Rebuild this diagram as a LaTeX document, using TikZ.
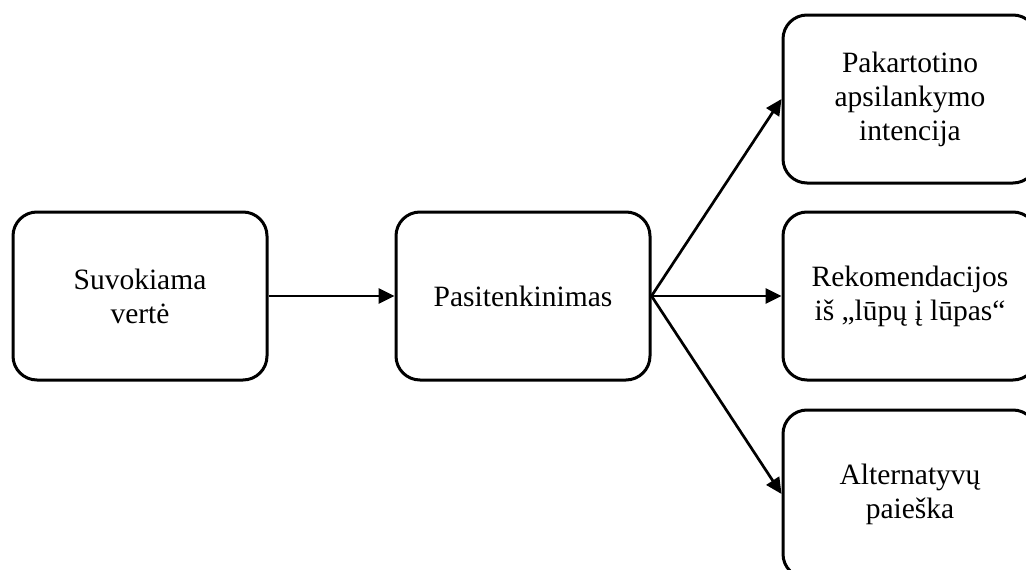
\documentclass[tikz,border=0pt]{standalone}
\usepackage{fontspec}
\setmainfont{Liberation Serif}
\usetikzlibrary{arrows.meta}
\begin{document}
\begin{tikzpicture}[x=1pt,y=-1pt,
  stagebox/.style={draw, line width=3pt, rounded corners=24pt,
    minimum width=254pt, minimum height=168pt, align=center,
    inner sep=0pt, font=\fontsize{29.5}{34}\selectfont},
  flow/.style={line width=2.7pt, -{Triangle[length=16pt,width=15pt]}}]
  \useasboundingbox (0,0) rectangle (1026,570);
  \clip (0,0) rectangle (1026,570);
  \node[stagebox] (value) at (140,296) {Suvokiama\\vertė};
  \node[stagebox] (sat) at (523,296) {Pasitenkinimas};
  \node[stagebox] (revisit) at (910,99) {Pakartotino\\apsilankymo\\intencija};
  \node[stagebox] (wom) at (910,296) {Rekomendacijos\\iš „lūpų į lūpas“};
  \node[stagebox] (alt) at (910,494) {Alternatyvų\\paieška};
  \draw[flow] (value.east) -- (sat.west);
  \draw[flow] (sat.east) -- (revisit.west);
  \draw[flow] (sat.east) -- (wom.west);
  \draw[flow] (sat.east) -- (alt.west);
\end{tikzpicture}
\end{document}
